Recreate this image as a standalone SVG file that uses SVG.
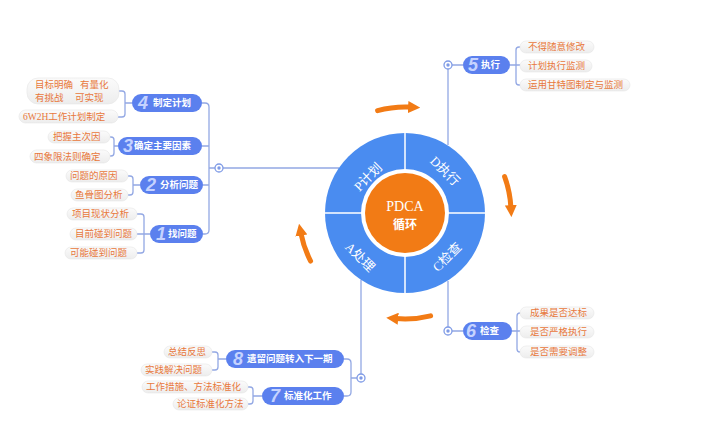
<svg xmlns="http://www.w3.org/2000/svg" width="720" height="444" viewBox="0 0 720 444">
<style>
.ln{fill:none;stroke:#93a8e4;stroke-width:1.3}
.arc{fill:none;stroke:#f27b15;stroke-width:5;stroke-linecap:round}
.pill{fill:#5b80ee}
.num{font-family:"Liberation Sans",sans-serif;font-style:italic;font-weight:bold;font-size:18px;fill:#c6d3ff;text-anchor:middle;dominant-baseline:central}
.pl{font-family:"Liberation Serif","Noto Sans CJK SC",serif;font-weight:bold;font-size:9.5px;fill:#ffffff;dominant-baseline:central}
.box{fill:url(#boxg);stroke:#e6e6e6;stroke-width:0.6}
.ct{font-family:"Liberation Serif","Noto Sans CJK SC",serif;font-size:9.5px;fill:#e8783c;dominant-baseline:central}
.ql{font-family:"Liberation Serif","Noto Sans CJK SC",serif;font-size:13px;fill:#ffffff;text-anchor:middle;dominant-baseline:central}
.dot{fill:#ffffff;stroke:#7f9be6;stroke-width:1.3}
.dotc{fill:#7f9be6}
</style>
<defs>
<linearGradient id="boxg" x1="0" y1="0" x2="0" y2="1">
<stop offset="0" stop-color="#fbfbfb"/>
<stop offset="1" stop-color="#ededed"/>
</linearGradient>
<marker id="oarrow" viewBox="0 0 10 10" refX="2" refY="5" markerWidth="2.4" markerHeight="2.4" orient="auto" markerUnits="strokeWidth">
<path d="M0,0 L10,5 L0,10 z" fill="#f27b15"/>
</marker>
</defs>
<rect width="720" height="444" fill="#ffffff"/>

<g id="connectors">
<!-- left trunk -->
<path class="ln" d="M202,103 H205 Q209,103 209,107 V230 Q209,234 205,234 H203"/>
<path class="ln" d="M202,146 H209 M203,185 H209 M209,168 H215 M223,168 H339"/>
<!-- left brackets -->
<path class="ln" d="M119,91 H122 Q125,91 125,94 V114 Q125,117 122,117 H118 M125,103 H132"/>
<path class="ln" d="M110,137 H111 Q114,137 114,140 V153 Q114,156 111,156 H110 M114,146 H118"/>
<path class="ln" d="M128,176 H130 Q133,176 133,179 V192 Q133,195 130,195 H128 M133,185 H140"/>
<path class="ln" d="M137,214 H141 Q144,214 144,217 V250 Q144,253 141,253 H137 M137,234 H150"/>
<!-- top right -->
<path class="ln" d="M448,145 V69 M452,65 H463"/>
<path class="ln" d="M520,47 H519 Q516,47 516,50 V82 Q516,85 519,85 H520 M510,65 H520"/>
<!-- bottom right -->
<path class="ln" d="M448,281 V327 M452,331 H463"/>
<path class="ln" d="M520,313 H520 Q517,313 517,316 V349 Q517,352 520,352 M512,331 H520"/>
<!-- bottom left -->
<path class="ln" d="M361,280 V374 M357,378 H351"/>
<path class="ln" d="M344,359 H347 Q351,359 351,363 V392 Q351,396 347,396 H344"/>
<path class="ln" d="M212,352 H215 Q218,352 218,355 V367 Q218,370 215,370 H212 M218,359 H226"/>
<path class="ln" d="M248,387 H250 Q253,387 253,390 V401 Q253,404 250,404 H248 M253,396 H262"/>
<!-- junction dots -->
<circle class="dot" cx="219" cy="168" r="4"/><circle class="dotc" cx="219" cy="168" r="1.7"/>
<circle class="dot" cx="448" cy="65" r="4"/><circle class="dotc" cx="448" cy="65" r="1.7"/>
<circle class="dot" cx="448" cy="331" r="4"/><circle class="dotc" cx="448" cy="331" r="1.7"/>
<circle class="dot" cx="361" cy="378" r="4"/><circle class="dotc" cx="361" cy="378" r="1.7"/>
<!-- orange cycle arrows -->
<path class="arc" marker-end="url(#oarrow)" d="M377.6,110.6 A106,106 0 0 1 410.5,107.1"/>
<path class="arc" marker-end="url(#oarrow)" d="M504.6,176.7 A106,106 0 0 1 510.9,207.5"/>
<path class="arc" marker-end="url(#oarrow)" d="M430.6,315.9 A106,106 0 0 1 395.8,318.6"/>
<path class="arc" marker-end="url(#oarrow)" d="M310.6,261.1 A106,106 0 0 1 300.9,233.2"/>
</g>

<g id="pdca">
<circle cx="405" cy="213" r="80" fill="#4a8cf0"/>
<path d="M405,133 V293 M325,213 H485" stroke="#ffffff" stroke-width="1.5"/>
<circle cx="405" cy="213" r="44" fill="#ffffff"/>
<circle cx="405" cy="213" r="40" fill="#f27b15"/>
<text x="405" y="206" class="ql" style="font-size:14px">PDCA</text>
<text x="405" y="225" class="ql" style="font-size:12px;font-weight:bold">循环</text>
<text class="ql" transform="translate(368,177) rotate(-45)">P计划</text>
<text class="ql" transform="translate(445,171) rotate(45)">D执行</text>
<text class="ql" transform="translate(447,257) rotate(-45)">C检查</text>
<text class="ql" transform="translate(360,257) rotate(45)">A处理</text>
</g>

<g id="n4">
<rect class="pill" x="132" y="94" width="70" height="18" rx="9"/>
<text class="num" x="143" y="103">4</text>
<text class="pl" x="153" y="103">制定计划</text>
</g>
<g id="n4a">
<rect class="box" x="27" y="78" width="92" height="26" rx="11"/>
<text class="ct" x="35" y="85">目标明确</text><text class="ct" x="80" y="85">有量化</text>
<text class="ct" x="35" y="97.5">有挑战</text><text class="ct" x="75" y="97.5">可实现</text>
</g>
<g id="n4b"><rect class="box" x="19" y="110" width="99" height="13" rx="6.5"/><text class="ct" x="23" y="116.5">6W2H工作计划制定</text></g>

<g id="n3">
<rect class="pill" x="118" y="137" width="84" height="18" rx="9"/>
<text class="num" x="128" y="146">3</text>
<text class="pl" x="134" y="146">确定主要因素</text>
</g>
<g id="n3a"><rect class="box" x="48" y="131" width="62" height="12" rx="6"/><text class="ct" x="53" y="137">把握主次因</text></g>
<g id="n3b"><rect class="box" x="30" y="150" width="80" height="13" rx="6.5"/><text class="ct" x="34" y="156.5">四象限法则确定</text></g>

<g id="n2">
<rect class="pill" x="140" y="176" width="63" height="18" rx="9"/>
<text class="num" x="151" y="185">2</text>
<text class="pl" x="160" y="185">分析问题</text>
</g>
<g id="n2a"><rect class="box" x="66" y="170" width="62" height="12" rx="6"/><text class="ct" x="70" y="176">问题的原因</text></g>
<g id="n2b"><rect class="box" x="71" y="189" width="57" height="12" rx="6"/><text class="ct" x="75" y="195">鱼骨图分析</text></g>

<g id="n1">
<rect class="pill" x="150" y="225" width="53" height="18" rx="9"/>
<text class="num" x="161" y="234">1</text>
<text class="pl" x="168" y="234">找问题</text>
</g>
<g id="n1a"><rect class="box" x="67" y="208" width="70" height="12" rx="6"/><text class="ct" x="72" y="214">项目现状分析</text></g>
<g id="n1b"><rect class="box" x="70" y="228" width="67" height="12" rx="6"/><text class="ct" x="75" y="234">目前碰到问题</text></g>
<g id="n1c"><rect class="box" x="65" y="247" width="72" height="12" rx="6"/><text class="ct" x="70" y="253">可能碰到问题</text></g>

<g id="n5">
<rect class="pill" x="463" y="56" width="47" height="18" rx="9"/>
<text class="num" x="473" y="65">5</text>
<text class="pl" x="481" y="65">执行</text>
</g>
<g id="n5a"><rect class="box" x="520" y="41" width="74" height="12" rx="6"/><text class="ct" x="528" y="47">不得随意修改</text></g>
<g id="n5b"><rect class="box" x="520" y="60" width="72" height="12" rx="6"/><text class="ct" x="528" y="66">计划执行监测</text></g>
<g id="n5c"><rect class="box" x="520" y="79" width="110" height="12" rx="6"/><text class="ct" x="528" y="85">运用甘特图制定与监测</text></g>

<g id="n6">
<rect class="pill" x="463" y="322" width="49" height="18" rx="9"/>
<text class="num" x="471" y="331">6</text>
<text class="pl" x="480" y="331">检查</text>
</g>
<g id="n6a"><rect class="box" x="520" y="307" width="74" height="12" rx="6"/><text class="ct" x="530" y="313">成果是否达标</text></g>
<g id="n6b"><rect class="box" x="520" y="326" width="74" height="12" rx="6"/><text class="ct" x="530" y="332">是否严格执行</text></g>
<g id="n6c"><rect class="box" x="520" y="346" width="74" height="12" rx="6"/><text class="ct" x="530" y="352">是否需要调整</text></g>

<g id="n8">
<rect class="pill" x="226" y="350" width="118" height="18" rx="9"/>
<text class="num" x="238" y="359">8</text>
<text class="pl" x="247" y="359">遗留问题转入下一期</text>
</g>
<g id="n8a"><rect class="box" x="164" y="346" width="48" height="12" rx="6"/><text class="ct" x="168" y="352">总结反思</text></g>
<g id="n8b"><rect class="box" x="141" y="364" width="71" height="12" rx="6"/><text class="ct" x="145" y="370">实践解决问题</text></g>

<g id="n7">
<rect class="pill" x="262" y="387" width="82" height="18" rx="9"/>
<text class="num" x="275" y="396">7</text>
<text class="pl" x="284" y="396">标准化工作</text>
</g>
<g id="n7a"><rect class="box" x="142" y="381" width="106" height="12" rx="6"/><text class="ct" x="146" y="387">工作措施、方法标准化</text></g>
<g id="n7b"><rect class="box" x="173" y="398" width="75" height="12" rx="6"/><text class="ct" x="177" y="404">论证标准化方法</text></g>
</svg>
